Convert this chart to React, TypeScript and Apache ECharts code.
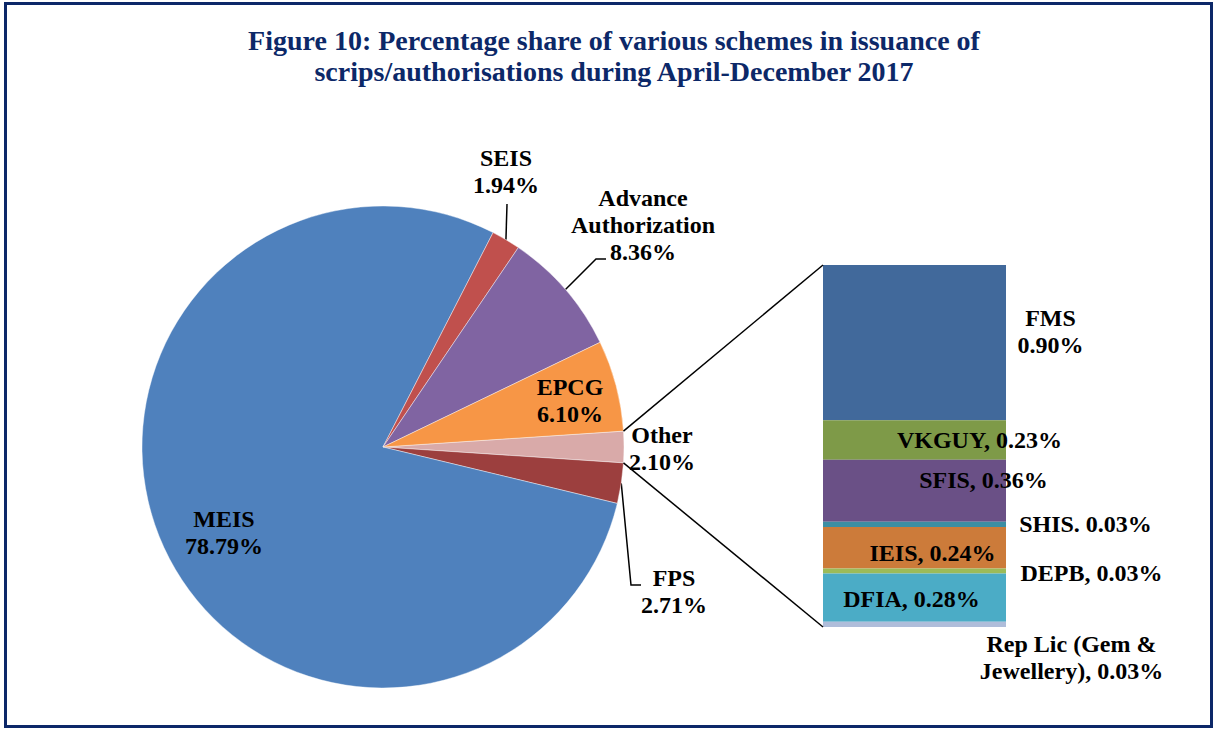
import React, { useEffect, useRef } from "react";
import * as echarts from "echarts";

// ---------- data ----------
const TITLE_LINES = [
  "Figure 10: Percentage share of various schemes in issuance of",
  "scrips/authorisations during April-December 2017",
];

const pieNames = ["Other", "FPS", "MEIS", "SEIS", "Advance\nAuthorization", "EPCG"];
const pieValues = [2.1, 2.71, 78.79, 1.94, 8.36, 6.1];
const pieColors = ["#D9AAA9", "#9C3F3E", "#4F81BD", "#C0504D", "#8064A2", "#F79646"];

const barNames = ["FMS", "VKGUY", "SFIS", "SHIS", "IEIS", "DEPB", "DFIA", "Rep Lic (Gem &\nJewellery)"];
const barValues = [0.9, 0.23, 0.36, 0.03, 0.24, 0.03, 0.28, 0.03];
const barSeparators = ["\n", ", ", ", ", ". ", ", ", ", ", ", ", ", "];
const barColors = ["#41699B", "#7E9A48", "#6A5086", "#3C8EA3", "#CC7B3A", "#9BBB59", "#4BACC6", "#AFBDDA"];

// ---------- layout ----------
const W = 1215;
const H = 729;
const NAVY = "#0C2868";
const FONT = "'Liberation Serif', 'Times New Roman', serif";
const PIE_CX = 383;
const PIE_CY = 447;
const PIE_R = 241;
const BAR_LEFT = 823;
const BAR_TOP = 265;
const BAR_W = 183;
const BAR_H = 362;

// label anchor positions (centre of each label block)
const pieLabelPos: Record<number, [number, number]> = {
  0: [662, 448],
  1: [674, 591],
  2: [224, 532],
  3: [506, 171],
  4: [643, 225],
  5: [570, 400],
};
// leader line bends for outside labels (mid point, end point)
const pieLeader: Record<number, [[number, number], [number, number]]> = {
  1: [[631, 585], [641, 585]],
  3: [[507, 204], [507, 204]],
  4: [[596, 259], [606, 259]],
};
const barLabelOffsets: [number, number][] = [
  [136, -11],
  [65, 0],
  [69, -11],
  [171, 0],
  [18, 5],
  [177, 2],
  [-3, 1],
  [157, 33],
];

export default function App() {
  const ref = useRef<HTMLDivElement>(null);
  useEffect(() => {
    if (!ref.current) return;
    const chart = echarts.init(ref.current, undefined, { renderer: "svg" });
    const total = pieValues.reduce((a, b) => a + b, 0);
    const startAngle = ((pieValues[0] / total) * 360) / 2;
    const midAngles: number[] = [];
    let acc = startAngle;
    pieValues.forEach((v) => {
      const span = (v / total) * 360;
      midAngles.push(acc - span / 2);
      acc -= span;
    });
    const edgePoint = (deg: number): [number, number] => [
      PIE_CX + PIE_R * Math.cos((deg * Math.PI) / 180),
      PIE_CY - PIE_R * Math.sin((deg * Math.PI) / 180),
    ];
    const topEdge = edgePoint(startAngle);
    const botEdge = edgePoint(-startAngle);
    const barSum = barValues.reduce((a, b) => a + b, 0);

    const labelFont = {
      fontFamily: FONT,
      fontWeight: "bold" as const,
      fontSize: 24,
      lineHeight: 27,
      color: "#000",
    };

    const option: any = {
      animation: false,
      backgroundColor: "#fff",
      title: {
        text: TITLE_LINES.join("\n"),
        left: 609,
        top: 20,
        textAlign: "center",
        textStyle: {
          fontFamily: FONT,
          fontWeight: "bold",
          fontSize: 28,
          lineHeight: 31,
          color: NAVY,
        },
      },
      grid: { left: BAR_LEFT, top: BAR_TOP, width: BAR_W, height: BAR_H },
      xAxis: { type: "category", data: [""], show: false },
      yAxis: { type: "value", min: 0, max: barSum, inverse: true, show: false },
      series: [
        {
          type: "pie",
          center: [PIE_CX, PIE_CY],
          radius: PIE_R,
          startAngle,
          clockwise: true,
          avoidLabelOverlap: false,
          itemStyle: { borderColor: "rgba(255,255,255,0.6)", borderWidth: 0.7 },
          label: {
            ...labelFont,
            formatter: (p: any) => `${p.name}\n${p.value.toFixed(2)}%`,
          },
          labelLine: { lineStyle: { color: "#000", width: 1.5 } },
          labelLayout: (p: any) => {
            const i = p.dataIndex;
            const pos = pieLabelPos[i];
            const res: any = { x: pos[0], y: pos[1], align: "center", verticalAlign: "middle" };
            if (pieLeader[i]) {
              res.labelLinePoints = [edgePoint(midAngles[i]), pieLeader[i][0], pieLeader[i][1]];
            }
            return res;
          },
          data: pieValues.map((v, i) => ({
            name: pieNames[i],
            value: v,
            itemStyle: { color: pieColors[i] },
            label: { position: pieLeader[i] || i === 0 ? "outside" : "inside" },
            labelLine: { show: !!pieLeader[i] },
          })),
        },
        ...barValues.map((v, i) => ({
          type: "bar",
          name: barNames[i],
          stack: "other",
          barWidth: "100%",
          data: [v],
          itemStyle: { color: barColors[i] },
          label: {
            show: true,
            position: "inside",
            offset: barLabelOffsets[i],
            ...labelFont,
            align: "center",
            formatter: () => `${barNames[i]}${barSeparators[i]}${v.toFixed(2)}%`,
          },
        })),
      ],
      graphic: [
        {
          type: "rect",
          shape: { x: 5.5, y: 3.5, width: W - 9, height: H - 6 },
          style: { fill: "none", stroke: NAVY, lineWidth: 3 },
          z: 100,
        },
        {
          type: "line",
          shape: { x1: topEdge[0], y1: topEdge[1], x2: BAR_LEFT, y2: BAR_TOP },
          style: { stroke: "#000", lineWidth: 1.5 },
          z: 100,
        },
        {
          type: "line",
          shape: { x1: botEdge[0], y1: botEdge[1], x2: BAR_LEFT, y2: BAR_TOP + BAR_H },
          style: { stroke: "#000", lineWidth: 1.5 },
          z: 100,
        },
      ],
    };
    chart.setOption(option);
    return () => chart.dispose();
  }, []);
  return (
    <div
      ref={ref}
      style={{ position: "fixed", left: 0, top: 0, width: W, height: H, background: "#fff" }}
    />
  );
}
